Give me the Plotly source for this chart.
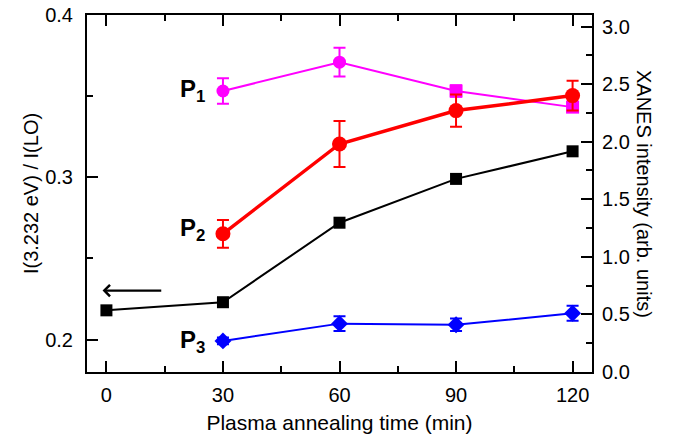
import plotly.graph_objects as go

# Data
time_ratio = [0, 30, 60, 90, 120]
ratio = [0.218, 0.223, 0.272, 0.299, 0.316]

time_p = [30, 60, 90, 120]
p1 = [2.44, 2.69, 2.44, 2.30]
p1_err = [0.11, 0.125, 0.05, 0.04]
p2 = [1.20, 1.98, 2.27, 2.40]
p2_err = [0.12, 0.20, 0.14, 0.13]
p3 = [0.27, 0.42, 0.41, 0.51]
p3_err = [0.03, 0.065, 0.055, 0.065]

x_ticks = [0, 30, 60, 90, 120]
p1_symbols = ["circle", "circle", "square", "square"]

FONT = "Liberation Sans, Arial, sans-serif"

fig = go.Figure()

fig.add_trace(go.Scatter(
    x=time_ratio, y=ratio, mode="lines+markers",
    line=dict(color="black", width=2),
    marker=dict(symbol="square", size=12, color="black"),
    yaxis="y", showlegend=False))

fig.add_trace(go.Scatter(
    x=time_p, y=p1, mode="lines+markers",
    line=dict(color="#ff00ff", width=2),
    marker=dict(symbol=p1_symbols, size=13, color="#ff00ff"),
    error_y=dict(type="data", array=p1_err, color="#ff00ff", thickness=2, width=6),
    yaxis="y2", showlegend=False))

fig.add_trace(go.Scatter(
    x=time_p, y=p2, mode="lines+markers",
    line=dict(color="#ff0000", width=3.5),
    marker=dict(symbol="circle", size=15, color="#ff0000"),
    error_y=dict(type="data", array=p2_err, color="#ff0000", thickness=2, width=6),
    yaxis="y2", showlegend=False))

fig.add_trace(go.Scatter(
    x=time_p, y=p3, mode="lines+markers",
    line=dict(color="#0000ff", width=2),
    marker=dict(symbol="diamond", size=13, color="#0000ff"),
    error_y=dict(type="data", array=p3_err, color="#0000ff", thickness=2, width=6),
    yaxis="y2", showlegend=False))

labels = [("P", "1", 2.445), ("P", "2", 1.24), ("P", "3", 0.265)]
for main, sub, yv in labels:
    fig.add_annotation(
        x=26, y=yv, xref="x", yref="y2", xanchor="right", yanchor="middle",
        text=f"<b>{main}<sub>{sub}</sub></b>", showarrow=False,
        font=dict(family=FONT, size=24, color="black"))

# arrow pointing to left axis
fig.add_annotation(
    x=-1, y=0.2302, ax=14.5, ay=0.2302, xref="x", yref="y", axref="x", ayref="y",
    text="", showarrow=True, arrowhead=4, arrowsize=1.0, arrowwidth=2.2, arrowcolor="black")

# right axis title (reads top to bottom)
fig.add_annotation(
    x=1.104, y=0.5, xref="paper", yref="paper", xanchor="center", yanchor="middle",
    text="XANES intensity (arb. units)",
    textangle=90, showarrow=False, font=dict(family=FONT, size=20, color="black"))

axis_common = dict(
    showline=True, linecolor="black", linewidth=2, ticks="inside",
    tickcolor="black", tickwidth=2, ticklen=11, showgrid=False, zeroline=False,
    automargin=False, ticklabeloverflow="allow",
    tickfont=dict(family=FONT, size=20, color="black"))

fig.update_layout(
    width=674, height=429,
    margin=dict(l=79, r=90, t=7, b=65, autoexpand=False),
    plot_bgcolor="white", paper_bgcolor="white",
    xaxis=dict(range=[-5, 125], tickvals=x_ticks, mirror="ticks",
               ticklabelstandoff=4,
               minor=dict(dtick=15, tick0=0, ticks="inside", ticklen=6, tickwidth=2, tickcolor="black"),
               title=dict(text="Plasma annealing time (min)", font=dict(family=FONT, size=21, color="black"), standoff=10),
               **axis_common),
    yaxis=dict(range=[0.18, 0.4], tickvals=[0.2, 0.3, 0.4], ticktext=["0.2", "0.3", "0.4"],
               ticklabelstandoff=8,
               minor=dict(dtick=0.05, tick0=0.2, ticks="inside", ticklen=6, tickwidth=2, tickcolor="black"),
               title=dict(text="I(3.232 eV) / I(LO)", font=dict(family=FONT, size=20, color="black"), standoff=1),
               **axis_common),
    yaxis2=dict(range=[0, 3.1], overlaying="y", side="right", tickvals=[0, 0.5, 1, 1.5, 2, 2.5, 3],
                ticktext=["0.0", "0.5", "1.0", "1.5", "2.0", "2.5", "3.0"],
                ticklabelstandoff=4,
                minor=dict(dtick=0.25, tick0=0, ticks="inside", ticklen=6, tickwidth=2, tickcolor="black"),
                **axis_common),
)

fig.write_html("out.html")
